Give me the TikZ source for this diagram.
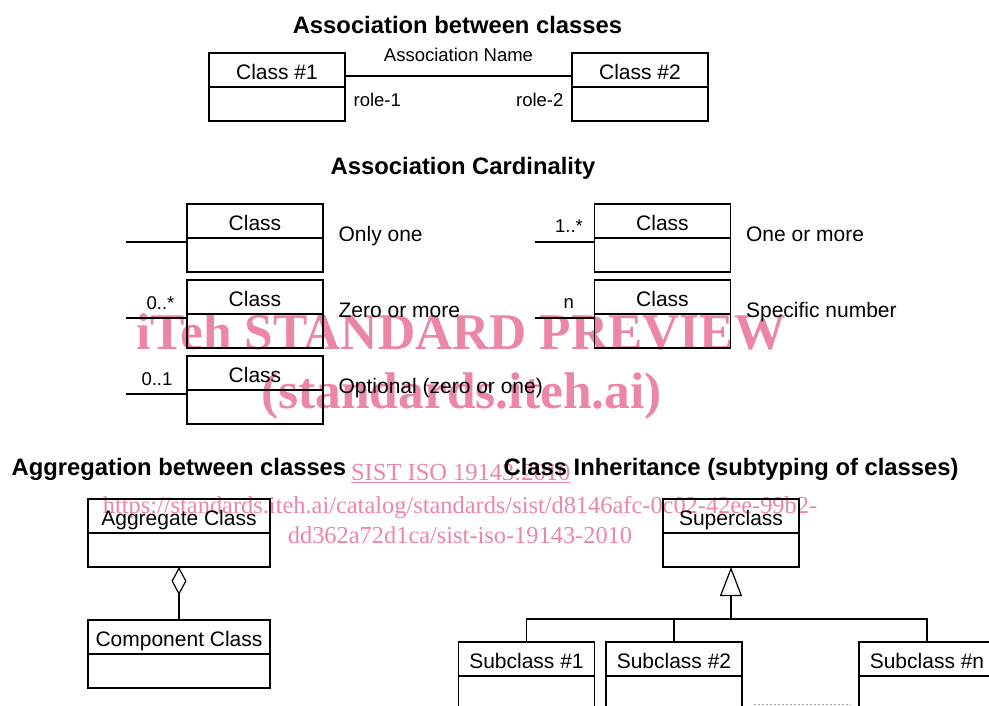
\documentclass[tikz,border=0pt]{standalone}
\usepackage{fontspec}
\setmainfont{Liberation Sans}
\newfontfamily\wmfont{Liberation Serif}
\usepackage{tikz}
\usetikzlibrary{positioning}
\usetikzlibrary{calc}
\usetikzlibrary{arrows.meta}
\definecolor{itehpink}{RGB}{235,135,165}

\begin{document}
\begin{tikzpicture}[x=1pt, y=-1pt, line width=1.2pt,
  klass/.style={draw, minimum width=136pt, minimum height=34pt, inner sep=0pt, outer sep=0pt,
    text height=19pt, text depth=0pt, font=\fontsize{21}{24}\selectfont},
  heading/.style={font=\fontsize{23.8}{28}\selectfont\bfseries, inner sep=0pt},
  lbl/.style={font=\fontsize{18.5}{22}\selectfont, inner sep=0pt},
  card/.style={font=\fontsize{21}{24}\selectfont, inner sep=0pt},
  wmark/.style={text=itehpink, inner sep=0pt, anchor=base}]
\useasboundingbox (0,0) rectangle (989,705);

\node[wmark, font=\wmfont\bfseries\fontsize{51.5}{56}\selectfont] (wm1) at (461,349) {iTeh STANDARD PREVIEW};
\node[wmark, font=\wmfont\bfseries\fontsize{51.5}{56}\selectfont] (wm2) at (461.5,408) {(standards.iteh.ai)};
\node[wmark, font=\wmfont\fontsize{24.5}{28}\selectfont] (wm3) at (460.7,480) {\underline{SIST ISO 19143:2010}};
\node[wmark, font=\wmfont\fontsize{24.4}{28}\selectfont] (wm4) at (460,513) {https://standards.iteh.ai/catalog/standards/sist/d8146afc-0c02-42ee-99b2-};
\node[wmark, font=\wmfont\fontsize{24.4}{28}\selectfont] (wm5) at (460,543) {dd362a72d1ca/sist-iso-19143-2010};

\node[heading, anchor=base] (t1) at (457.5,33) {Association between classes};
\node[klass] (c1) at (277,70) {Class \#1};
\node[klass, below=0pt of c1] (c1b) {};
\node[klass] (c2) at (640,70) {Class \#2};
\node[klass, below=0pt of c2] (c2b) {};
\draw ($(c1.east)+(0,6)$) -- ($(c2.west)+(0,6)$)
  node[lbl, midway, above=14pt] {Association Name}
  node[lbl, pos=0, below right=16.5pt and 8pt] {role-1}
  node[lbl, pos=1, below left=16.5pt and 8pt] {role-2};

\node[heading, anchor=base] (t2) at (463,174) {Association Cardinality};
\node[klass] (k1) at (255,221) {Class};
\node[klass, below=0pt of k1] (k1b) {};
\node[klass] (k2) at (255,297) {Class};
\node[klass, below=0pt of k2] (k2b) {};
\node[klass] (k3) at (255,373) {Class};
\node[klass, below=0pt of k3] (k3b) {};
\node[klass] (k4) at (662.5,221) {Class};
\node[klass, below=0pt of k4] (k4b) {};
\node[klass] (k5) at (662.5,297) {Class};
\node[klass, below=0pt of k5] (k5b) {};
\coordinate (e1) at (126,242);
\coordinate (e2) at (126,318);
\coordinate (e3) at (126,394);
\coordinate (e4) at (535,242);
\coordinate (e5) at (535,318);
\draw (e1) -- (e1 -| k1b.west);
\draw (e2) -- (e2 -| k2b.west) node[lbl, pos=1, above left=8pt and 12pt] {0..*};
\draw (e3) -- (e3 -| k3b.west) node[lbl, pos=1, above left=8pt and 14pt] {0..1};
\draw (e4) -- (e4 -| k4b.west) node[lbl, pos=1, above left=9pt and 11pt] {1..*};
\draw (e5) -- (e5 -| k5b.west) node[lbl, pos=1, above left=9pt and 20pt] {n};
\node[card, anchor=base west] (d1) at ($(k1b.north east)+(15,3)$) {Only one};
\node[card, anchor=base west] (d2) at ($(k2b.north east)+(15,3)$) {Zero or more};
\node[card, anchor=base west] (d3) at ($(k3b.north east)+(15,3)$) {Optional (zero or one)};
\node[card, anchor=base west] (d4) at ($(k4b.north east)+(15,3)$) {One or more};
\node[card, anchor=base west] (d5) at ($(k5b.north east)+(15,3)$) {Specific number};

\node[heading, anchor=base west] (t3) at (11,475) {Aggregation between classes};
\node[klass, minimum width=182pt] (ag) at (179,516) {Aggregate Class};
\node[klass, minimum width=182pt, below=0pt of ag] (agb) {};
\node[klass, minimum width=182pt] (co) at (179,637) {Component Class};
\node[klass, minimum width=182pt, below=0pt of co] (cob) {};
\draw[-{Diamond[open, length=28pt, width=15pt]}] (co.north) -- (agb.south);

\node[heading, anchor=base west] (t4) at (503,475) {Class Inheritance (subtyping of classes)};
\node[klass] (sup) at (731,516) {Superclass};
\node[klass, below=0pt of sup] (supb) {};
\node[klass] (s1) at (526.5,659) {Subclass \#1};
\node[klass, below=0pt of s1] (s1b) {};
\node[klass] (s2) at (674,659) {Subclass \#2};
\node[klass, below=0pt of s2] (s2b) {};
\node[klass] (sn) at (927,659) {Subclass \#n};
\node[klass, below=0pt of sn] (snb) {};
\coordinate (bus) at (731,619);
\draw[-{Triangle[open, length=29pt, width=22pt]}] (bus) -- (supb.south);
\draw (s1.north) |- (bus) -| (sn.north);
\draw (s2.north) -- (s2.north |- bus);
\draw[gray!70, line width=1pt, dash pattern=on 2pt off 2pt] ($(s2b.east)+(12,11)$) -- ($(snb.west)+(-8,11)$);
%\draw[help lines] (0,0) grid[step=50] (989,705);
\end{tikzpicture}
\end{document}
